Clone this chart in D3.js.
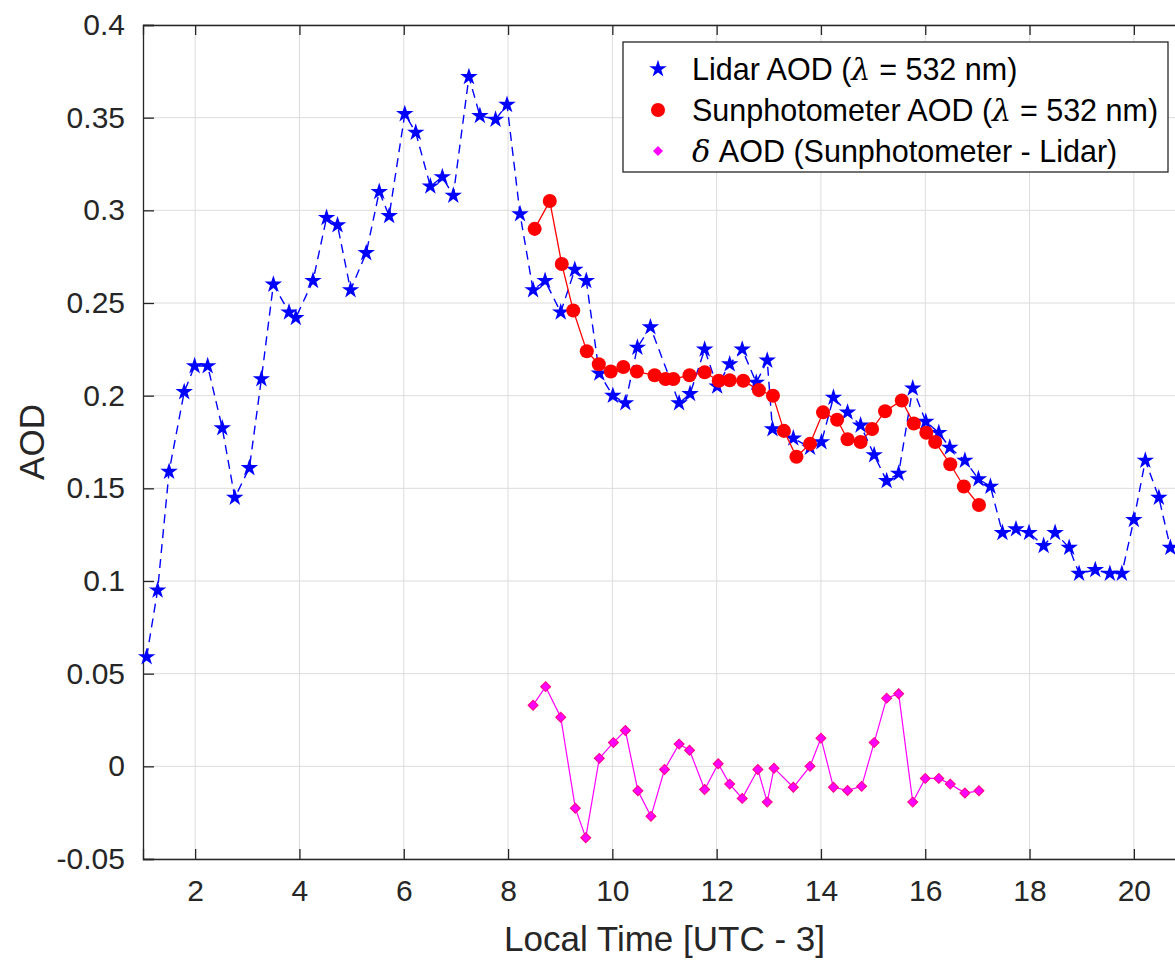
<!DOCTYPE html>
<html>
<head>
<meta charset="utf-8">
<script src="https://cdn.jsdelivr.net/npm/d3@7/dist/d3.min.js"></script>
<style>
  body { margin: 0; background: #fff; }
  svg { display: block; font-family: "Liberation Sans", Arial, sans-serif; }
</style>
</head>
<body>
<div id="chart"></div>
<script>
// values
const lidarTime = [1.07, 1.28, 1.50, 1.79, 1.99, 2.24, 2.52, 2.76, 3.04, 3.27, 3.50, 3.80, 3.93, 4.26, 4.52, 4.73, 4.98, 5.28, 5.53, 5.72,
  6.02, 6.23, 6.51, 6.74, 6.95, 7.25, 7.46, 7.76, 7.98, 8.23, 8.48, 8.71, 9.01, 9.28, 9.50, 9.75, 10.01, 10.25, 10.48, 10.73,
  11.28, 11.49, 11.77, 12.01, 12.25, 12.49, 12.76, 12.97, 13.07, 13.47, 13.79, 14.01, 14.24, 14.51, 14.76, 15.02, 15.26, 15.49,
  15.76, 16.01, 16.26, 16.47, 16.76, 17.02, 17.25, 17.48, 17.74, 17.99, 18.27, 18.49, 18.76, 18.95, 19.26, 19.54, 19.77, 20.0,
  20.22, 20.48, 20.7];
const lidarAod = [0.059, 0.095, 0.159, 0.202, 0.216, 0.216, 0.1825, 0.145, 0.161, 0.209, 0.260, 0.245, 0.242, 0.262, 0.296, 0.292, 0.257, 0.277, 0.310, 0.297,
  0.352, 0.342, 0.313, 0.318, 0.308, 0.372, 0.351, 0.349, 0.357, 0.298, 0.257, 0.262, 0.245, 0.268, 0.262, 0.212, 0.200, 0.196, 0.226, 0.237,
  0.196, 0.201, 0.225, 0.205, 0.217, 0.225, 0.207, 0.219, 0.182, 0.177, 0.172, 0.175, 0.199, 0.191, 0.184, 0.168, 0.154, 0.158,
  0.204, 0.186, 0.180, 0.172, 0.165, 0.155, 0.151, 0.126, 0.128, 0.126, 0.119, 0.126, 0.118, 0.104, 0.106, 0.104, 0.104, 0.133,
  0.165, 0.145, 0.118];

const sunTime = [8.51, 8.80, 9.03, 9.25, 9.51, 9.74, 9.97, 10.21, 10.47, 10.81, 11.02, 11.17, 11.48, 11.77, 12.04, 12.25, 12.51, 12.81,
  13.08, 13.29, 13.53, 13.79, 14.04, 14.31, 14.51, 14.76, 14.98, 15.23, 15.55, 15.78, 16.02, 16.19, 16.48, 16.74, 17.03];
const sunAod = [0.290, 0.305, 0.271, 0.246, 0.224, 0.217, 0.213, 0.2155, 0.213, 0.211, 0.209, 0.209, 0.211, 0.2126, 0.208, 0.2083, 0.208, 0.203,
  0.200, 0.181, 0.167, 0.174, 0.191, 0.187, 0.1765, 0.175, 0.182, 0.1916, 0.1974, 0.185, 0.180, 0.175, 0.163, 0.151, 0.141];

const deltaTime = [8.48, 8.72, 9.01, 9.29, 9.49, 9.75, 10.02, 10.25, 10.49, 10.74, 11.0, 11.28, 11.48, 11.77, 12.03, 12.25, 12.49, 12.79,
  12.97, 13.10, 13.47, 13.79, 14.0, 14.24, 14.51, 14.78, 15.02, 15.26, 15.49, 15.76, 16.0, 16.26, 16.48, 16.76, 17.03];
const deltaAod = [0.033, 0.043, 0.0265, -0.0226, -0.0385, 0.0043, 0.0128, 0.0193, -0.0132, -0.027, -0.0017, 0.012, 0.0087, -0.0125, 0.0014, -0.0096, -0.0173, -0.0017,
  -0.0193, -0.001, -0.0113, 0.0, 0.0152, -0.0113, -0.013, -0.0108, 0.0128, 0.0368, 0.0392, -0.0193, -0.0065, -0.0065, -0.0096, -0.0144, -0.0132];

const xTicks = [2, 4, 6, 8, 10, 12, 14, 16, 18, 20];
const yTicks = [-0.05, 0, 0.05, 0.1, 0.15, 0.2, 0.25, 0.3, 0.35, 0.4];

const width = 1175;
const height = 962;
const plotLeft = 143;
const plotRight = 1186;
const plotTop = 25;
const plotBottom = 859;
const ink = '#262626';

const svg = d3.select('#chart')
  .append('svg')
  .attr('width', width)
  .attr('height', height);

const xScale = d3.scaleLinear().domain([1, 21]).range([plotLeft, plotRight]);
const yScale = d3.scaleLinear().domain([-0.05, 0.4]).range([plotBottom, plotTop]);

// grid
svg.append('g')
  .selectAll('line')
  .data(xTicks)
  .join('line')
  .attr('x1', (d) => xScale(d)).attr('x2', (d) => xScale(d))
  .attr('y1', plotTop).attr('y2', plotBottom)
  .attr('stroke', '#dcdcdc');

svg.append('g')
  .selectAll('line')
  .data(yTicks)
  .join('line')
  .attr('x1', plotLeft).attr('x2', plotRight)
  .attr('y1', (d) => yScale(d)).attr('y2', (d) => yScale(d))
  .attr('stroke', '#dcdcdc');

// axes (MATLAB style: inward ticks, box)
const fmtY = (d) => (d === 0 ? '0' : String(+d.toFixed(2)));

const xAxis = d3.axisBottom(xScale).tickValues(xTicks).tickSize(-10).tickPadding(21).tickFormat(d3.format('d'));
const xTop = d3.axisTop(xScale).tickValues(xTicks).tickSize(-10).tickFormat('');
const yAxis = d3.axisLeft(yScale).tickValues(yTicks).tickSize(-11).tickPadding(18).tickFormat(fmtY);

function style(g) {
  g.select('.domain').attr('stroke', ink).attr('stroke-width', 1.3);
  g.selectAll('.tick line').attr('stroke', ink).attr('stroke-width', 1.3);
  g.selectAll('.tick text').attr('fill', ink).style('font-size', '30px')
    .style('font-family', '"Liberation Sans", Arial, sans-serif');
}

svg.append('g').attr('transform', `translate(0,${plotBottom})`).call(xAxis).call(style);
svg.append('g').attr('transform', `translate(0,${plotTop})`).call(xTop).call(style);
svg.append('g').attr('transform', `translate(${plotLeft},0)`).call(yAxis).call(style);

// axis labels
svg.append('text')
  .attr('x', (plotLeft + plotRight) / 2)
  .attr('y', 951)
  .attr('text-anchor', 'middle')
  .attr('fill', ink)
  .style('font-size', '35px')
  .text('Local Time [UTC - 3]');

svg.append('text')
  .attr('transform', `translate(44,${(plotTop + plotBottom) / 2}) rotate(-90)`)
  .attr('text-anchor', 'middle')
  .attr('fill', ink)
  .style('font-size', '35px')
  .text('AOD');

// series
const lidar = lidarTime.map((t, i) => [t, lidarAod[i]]);
const sun = sunTime.map((t, i) => [t, sunAod[i]]);
const delta = deltaTime.map((t, i) => [t, deltaAod[i]]);

const line = d3.line().x((d) => xScale(d[0])).y((d) => yScale(d[1]));

const star = d3.symbol().type(d3.symbolStar).size(95);
const dot = d3.symbol().type(d3.symbolCircle).size(155);
// MATLAB 'd' marker: a square turned by 45 degrees
const diamond = d3.symbol().type(d3.symbolSquare).size(50);

svg.append('path')
  .datum(lidar)
  .attr('d', line)
  .attr('fill', 'none')
  .attr('stroke', '#0000ff')
  .attr('stroke-width', 1.4)
  .attr('stroke-dasharray', '9,6');

svg.append('g')
  .selectAll('path')
  .data(lidar)
  .join('path')
  .attr('transform', (d) => `translate(${xScale(d[0])},${yScale(d[1])})`)
  .attr('d', star)
  .attr('fill', '#0000ff');

svg.append('path')
  .datum(sun)
  .attr('d', line)
  .attr('fill', 'none')
  .attr('stroke', '#ff0000')
  .attr('stroke-width', 1.3);

svg.append('g')
  .selectAll('path')
  .data(sun)
  .join('path')
  .attr('transform', (d) => `translate(${xScale(d[0])},${yScale(d[1])})`)
  .attr('d', dot)
  .attr('fill', '#ff0000');

svg.append('path')
  .datum(delta)
  .attr('d', line)
  .attr('fill', 'none')
  .attr('stroke', '#ff00ff')
  .attr('stroke-width', 1.2);

svg.append('g')
  .selectAll('path')
  .data(delta)
  .join('path')
  .attr('transform', (d) => `translate(${xScale(d[0])},${yScale(d[1])}) rotate(45)`)
  .attr('d', diamond)
  .attr('fill', '#ff00ff')
  .attr('stroke', '#ff0080')
  .attr('stroke-width', 1);

// legend
const legend = svg.append('g');
legend.append('rect')
  .attr('x', 623).attr('y', 42)
  .attr('width', 545).attr('height', 130)
  .attr('fill', '#fff')
  .attr('stroke', ink)
  .attr('stroke-width', 1.3);

const rows = [
  { sym: star, fill: '#0000ff', rot: 0, pre: 'Lidar AOD (', greek: 'λ', post: ' = 532 nm)' },
  { sym: dot, fill: '#ff0000', rot: 0, pre: 'Sunphotometer AOD (', greek: 'λ', post: ' = 532 nm)' },
  { sym: diamond, fill: '#ff00ff', rot: 45, pre: '', greek: 'δ', post: ' AOD (Sunphotometer - Lidar)' },
];

rows.forEach((r, i) => {
  const cy = 69 + i * 41;
  legend.append('path')
    .attr('transform', `translate(658,${cy}) rotate(${r.rot})`)
    .attr('d', r.sym)
    .attr('fill', r.fill);
  const t = legend.append('text')
    .attr('x', 692)
    .attr('y', cy + 11)
    .attr('fill', '#000')
    .style('font-size', '30.5px');
  if (r.pre) t.append('tspan').text(r.pre);
  t.append('tspan')
    .style('font-family', '"DejaVu Serif", "Liberation Serif", serif')
    .style('font-style', 'italic')
    .text(r.greek);
  t.append('tspan').text(r.post);
});
</script>
</body>
</html>
